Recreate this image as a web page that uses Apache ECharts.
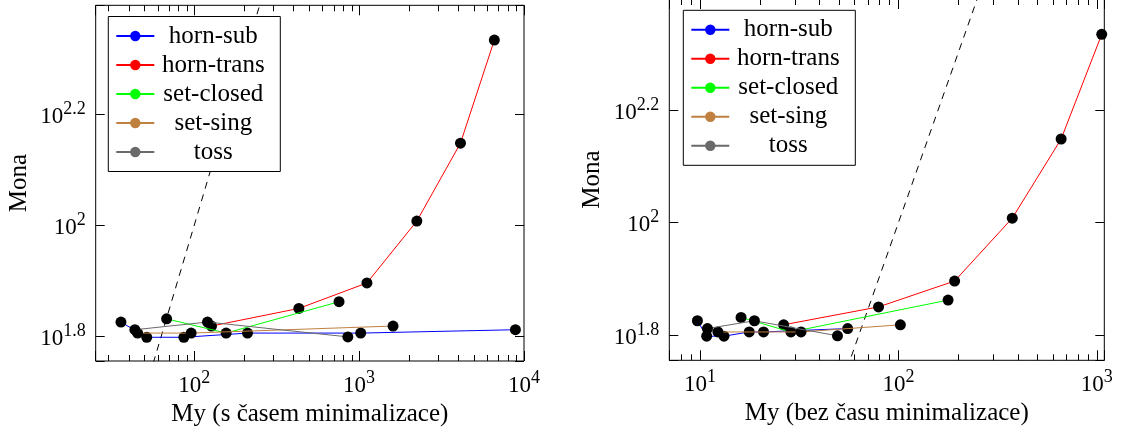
<!DOCTYPE html>
<html>
<head>
<meta charset="utf-8">
<script src="https://cdn.jsdelivr.net/npm/echarts@6/dist/echarts.min.js"></script>
<style>
html, body { margin: 0; padding: 0; background: #fff; }
#chart { width: 1121px; height: 432px; }
</style>
</head>
<body>
<div id="chart"></div>
<script>
const seriesNames = ["horn-sub", "horn-trans", "set-closed", "set-sing", "toss"];
const seriesColors = ["#0000ff", "#ff0000", "#00ff00", "#bf8040", "#6a6a6a"];

// Mona (y), shared by both plots
const monaHornSub = [67.0, 62.9, 62.9, 64.0, 64.0, 64.9];
const monaHornTrans = [65.9, 70.9, 78.8, 101.9, 140.8, 216.0];
const monaSetClosed = [67.9, 64.0, 72.9];
const monaSetSing = [64.0, 64.0, 65.9];
const monaToss = [64.9, 67.0, 63.0];

// My with minimization time (left plot x)
const myMinHornSub = [36.0, 51.6, 86.6, 210.7, 1023, 8870];
const myMinHornTrans = [127.4, 431.5, 1116, 2240, 4120, 6610];
const myMinSetClosed = [68.1, 156.3, 756];
const myMinSetSing = [45.4, 95.9, 1607];
const myMinToss = [43.7, 120.5, 855];

// My without minimization time (right plot x)
const myHornSub = [9.7, 10.8, 13.2, 17.7, 20.9, 55.5];
const myHornTrans = [26.4, 79.4, 192, 375, 661, 1059];
const mySetClosed = [16.1, 28.7, 178];
const mySetSing = [12.3, 32.3, 102.3];
const myToss = [10.9, 18.8, 49.3];

// y = x reference line
const diagonal = [1, 100000];

// tick labels (exponents of 10)
const yTickExps = [1.8, 2, 2.2];
const xTickExpsLeft = [2, 3, 4];
const xTickExpsRight = [1, 2, 3];

const monaAll = [monaHornSub, monaHornTrans, monaSetClosed, monaSetSing, monaToss];
const myLeft = [myMinHornSub, myMinHornTrans, myMinSetClosed, myMinSetSing, myMinToss];
const myRight = [myHornSub, myHornTrans, mySetClosed, mySetSing, myToss];

const FONT = "Liberation Serif";
const yMin = 57.0, yMax = 249.5;
const xRangeLeft = [25.3, 10000];
const xRangeRight = [7.0, 1091];

const rich = {
  b: { fontFamily: FONT, fontSize: 23, color: "#000", lineHeight: 28, verticalAlign: "bottom" },
  s: { fontFamily: FONT, fontSize: 18, color: "#000", lineHeight: 18, verticalAlign: "top" },
};

function expLabel(list) {
  return (v) => {
    const e = Math.log10(v);
    const hit = list.find((t) => Math.abs(t - e) < 1e-4);
    if (hit === undefined) return "";
    const sup = Number.isInteger(hit) ? String(hit) : hit.toFixed(1);
    return "{b|10}{s|" + sup + "}";
  };
}

function minorTicks(lo, hi) {
  const out = [];
  for (let d = Math.floor(Math.log10(lo)); d <= Math.ceil(Math.log10(hi)); d++) {
    for (let m = 2; m <= 9; m++) {
      const v = m * Math.pow(10, d);
      if (v > lo && v < hi) out.push(v);
    }
  }
  return out;
}

function xAxes(grid, range, exps, title) {
  const base = {
    type: "log", logBase: 10, gridIndex: grid, min: range[0], max: range[1],
    axisLine: { show: false }, splitLine: { show: false },
    axisTick: { inside: true, length: 10, lineStyle: { color: "#000", width: 1 } },
  };
  return [
    Object.assign({}, base, {
      position: "bottom",
      axisLabel: { margin: 8, formatter: expLabel(exps), rich: rich },
      name: title, nameLocation: "middle", nameGap: 39,
      nameTextStyle: { fontFamily: FONT, fontSize: 25, color: "#000" },
    }),
    Object.assign({}, base, { position: "top", axisLabel: { show: false } }),
  ];
}

function yAxes(grid) {
  const base = {
    type: "log", logBase: Math.pow(10, 0.2), gridIndex: grid, min: yMin, max: yMax,
    axisLine: { show: false }, splitLine: { show: false },
    axisTick: { inside: true, length: 9, lineStyle: { color: "#000", width: 1 } },
  };
  return [
    Object.assign({}, base, {
      position: "left",
      axisLabel: { margin: 10, formatter: expLabel(yTickExps), rich: rich },
      name: "Mona", nameLocation: "middle", nameGap: 64,
      nameTextStyle: { fontFamily: FONT, fontSize: 25, color: "#000" },
    }),
    Object.assign({}, base, { position: "right", axisLabel: { show: false } }),
  ];
}

function minorTickSeries(xIdx, yIdx, range) {
  return {
    type: "custom", xAxisIndex: xIdx, yAxisIndex: yIdx, silent: true, z: 1,
    data: minorTicks(range[0], range[1]).map((v) => [v, yMin]),
    renderItem: (params, api) => {
      const b = api.coord([api.value(0), yMin]);
      const t = api.coord([api.value(0), yMax]);
      const x = Math.round(b[0]) + 0.5;
      return {
        type: "group",
        children: [
          { type: "line", shape: { x1: x, y1: b[1], x2: x, y2: b[1] - 6 }, style: { stroke: "#000", lineWidth: 1 } },
          { type: "line", shape: { x1: x, y1: t[1], x2: x, y2: t[1] + 6 }, style: { stroke: "#000", lineWidth: 1 } },
        ],
      };
    },
  };
}

function plotSeries(xIdx, yIdx, myLists) {
  const out = [{
    type: "line", xAxisIndex: xIdx, yAxisIndex: yIdx, silent: true, z: 2,
    data: diagonal.map((v) => [v, v]), symbol: "none", clip: true,
    lineStyle: { color: "#000", width: 1, type: [7, 6] },
  }];
  seriesNames.forEach((name, k) => {
    out.push({
      name: name, type: "line", xAxisIndex: xIdx, yAxisIndex: yIdx, z: 3 + k,
      data: myLists[k].map((x, i) => [x, monaAll[k][i]]),
      symbol: "circle", symbolSize: 11, showSymbol: true, clip: true,
      itemStyle: { color: "#000" },
      lineStyle: { color: seriesColors[k], width: 1 },
    });
  });
  return out;
}

function legend(left, top) {
  return {
    left: left, top: top, orient: "vertical",
    backgroundColor: "#fff", borderColor: "#000", borderWidth: 1, borderRadius: 0,
    padding: [7, 13, 7, 7], itemGap: 4, itemWidth: 38, itemHeight: 13,
    selectedMode: false,
    data: seriesNames.map((n, k) => ({ name: n, itemStyle: { color: seriesColors[k] } })),
    formatter: (n) => "{c|" + n + "}",
    textStyle: {
      lineHeight: 24,
      rich: { c: { fontFamily: FONT, fontSize: 25, color: "#000", width: 108, align: "center", lineHeight: 24 } },
    },
  };
}

const chart = echarts.init(document.getElementById("chart"), null, { renderer: "canvas" });
chart.setOption({
  animation: false,
  backgroundColor: "#fff",
  grid: [
    { left: 95.7, top: 5.3, width: 428.3, height: 355.7, show: true, borderColor: "#000", borderWidth: 1, containLabel: false, outerBoundsMode: "none" },
    { left: 669.3, top: -1, width: 435, height: 361.3, show: true, borderColor: "#000", borderWidth: 1, containLabel: false, outerBoundsMode: "none" },
  ],
  legend: [legend(108.3, 16.5), legend(683.3, 10.3)],
  xAxis: [].concat(
    xAxes(0, xRangeLeft, xTickExpsLeft, "My (s časem minimalizace)"),
    xAxes(1, xRangeRight, xTickExpsRight, "My (bez času minimalizace)")
  ),
  yAxis: [].concat(yAxes(0), yAxes(1)),
  series: [].concat(
    minorTickSeries(0, 0, xRangeLeft),
    minorTickSeries(2, 2, xRangeRight),
    plotSeries(0, 0, myLeft),
    plotSeries(2, 2, myRight)
  ),
});
</script>
</body>
</html>
